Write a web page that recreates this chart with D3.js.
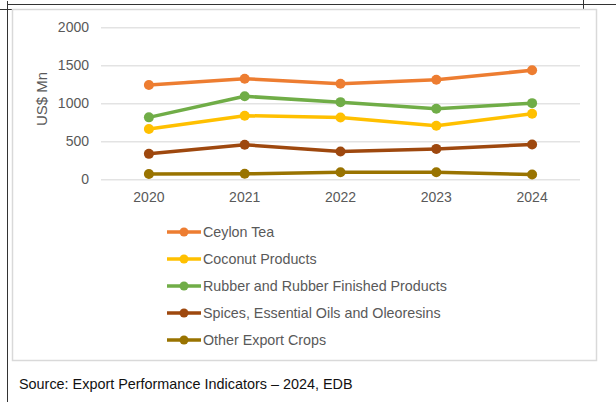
<!DOCTYPE html>
<html>
<head>
<meta charset="utf-8">
<script src="https://cdn.jsdelivr.net/npm/d3@7"></script>
<style>
    html, body { margin: 0; padding: 0; background: #fff; }
    svg { display: block; font-family: "Liberation Sans", Arial, sans-serif; }
</style>
</head>
<body>
<svg id="chart" width="616" height="402"></svg>
<script>
// values (US$ Mn)
var years = ['2020', '2021', '2022', '2023', '2024'];
var yTicks = [0, 500, 1000, 1500, 2000];

var seriesNames = [
    'Ceylon Tea',
    'Coconut Products',
    'Rubber and Rubber Finished Products',
    'Spices, Essential Oils and Oleoresins',
    'Other Export Crops'
];
var seriesColors = ['#ed7d31', '#ffc000', '#70ad47', '#9e480e', '#997300'];

var ceylonTea = [1241, 1324, 1258, 1310, 1435];
var coconut = [662, 837, 812, 705, 862];
var rubber = [815, 1092, 1015, 928, 1002];
var spices = [335, 455, 365, 400, 458];
var otherCrops = [70, 72, 92, 92, 62];

var sourceText = 'Source: Export Performance Indicators \u2013 2024, EDB';
var yTitle = 'US$ Mn';

(function () {

    var allSeries = [ceylonTea, coconut, rubber, spices, otherCrops];

    var svg = d3.select('#chart');

    // page frame lines
    var frame = svg.append('g')
        .attr('stroke', '#333')
        .attr('stroke-width', 1)
        .attr('shape-rendering', 'crispEdges');
    frame.append('line').attr('x1', 7.5).attr('y1', 4.5).attr('x2', 616).attr('y2', 4.5);
    frame.append('line').attr('x1', 7.5).attr('y1', 1).attr('x2', 7.5).attr('y2', 402);
    frame.append('line').attr('x1', 0).attr('y1', 9.5).attr('x2', 13).attr('y2', 9.5);
    frame.append('line').attr('x1', 583.5).attr('y1', 0).attr('x2', 583.5).attr('y2', 9);

    // chart box
    svg.append('rect')
        .attr('x', 12.5)
        .attr('y', 9.5)
        .attr('width', 584)
        .attr('height', 351)
        .attr('fill', '#fff')
        .attr('stroke', '#d9d9d9')
        .attr('stroke-width', 1.5);

    var plot = { left: 101, right: 580, top: 27.3, bottom: 179.3 };

    var x = d3.scaleBand()
        .domain(years)
        .range([plot.left, plot.right]);

    var y = d3.scaleLinear()
        .domain([0, 2000])
        .range([plot.bottom, plot.top]);

    var cx = function (d, i) {
        return x(years[i]) + x.bandwidth() / 2;
    };

    // gridlines + y labels
    var yAxis = svg.append('g')
        .attr('transform', 'translate(' + plot.left + ',0)')
        .call(d3.axisLeft(y)
            .tickValues(yTicks)
            .tickSize(-(plot.right - plot.left))
            .tickPadding(12)
            .tickFormat(d3.format('d')));
    yAxis.select('.domain').remove();
    yAxis.selectAll('line')
        .attr('stroke', '#e3e3e3')
        .attr('stroke-width', 1.5);
    yAxis.selectAll('text')
        .attr('fill', '#595959')
        .style('font-size', '14px');

    // x labels
    var xAxis = svg.append('g')
        .attr('transform', 'translate(0,' + plot.bottom + ')')
        .call(d3.axisBottom(x).tickSize(0).tickPadding(13));
    xAxis.select('.domain').remove();
    xAxis.selectAll('text')
        .attr('fill', '#595959')
        .style('font-size', '14px');

    svg.append('text')
        .attr('transform', 'translate(47,99) rotate(-90)')
        .attr('text-anchor', 'middle')
        .attr('fill', '#595959')
        .style('font-size', '15px')
        .text(yTitle);

    var line = d3.line()
        .x(cx)
        .y(function (d) { return y(d); });

    var groups = svg.selectAll('.series')
        .data(allSeries)
        .enter()
        .append('g')
        .attr('class', 'series');

    groups.append('path')
        .attr('d', line)
        .attr('fill', 'none')
        .attr('stroke', function (d, i) { return seriesColors[i]; })
        .attr('stroke-width', 3.5)
        .attr('stroke-linejoin', 'round');

    groups.each(function (vals, si) {
        d3.select(this).selectAll('circle')
            .data(vals)
            .enter()
            .append('circle')
            .attr('cx', cx)
            .attr('cy', function (d) { return y(d); })
            .attr('r', 5)
            .attr('fill', seriesColors[si]);
    });

    // legend
    var legend = svg.selectAll('.legend')
        .data(seriesNames)
        .enter()
        .append('g')
        .attr('class', 'legend')
        .attr('transform', function (d, i) {
            return 'translate(167,' + (232 + i * 27) + ')';
        });
    legend.append('line')
        .attr('x1', 0).attr('x2', 34)
        .attr('stroke', function (d, i) { return seriesColors[i]; })
        .attr('stroke-width', 3.5);
    legend.append('circle')
        .attr('cx', 17)
        .attr('r', 4.5)
        .attr('fill', function (d, i) { return seriesColors[i]; });
    legend.append('text')
        .attr('x', 36)
        .attr('dy', '0.35em')
        .attr('fill', '#595959')
        .style('font-size', '14.3px')
        .text(function (d) { return d; });

    svg.append('text')
        .attr('x', 19)
        .attr('y', 389)
        .attr('fill', '#111')
        .style('font-size', '14.4px')
        .text(sourceText);

})();
</script>
</body>
</html>
